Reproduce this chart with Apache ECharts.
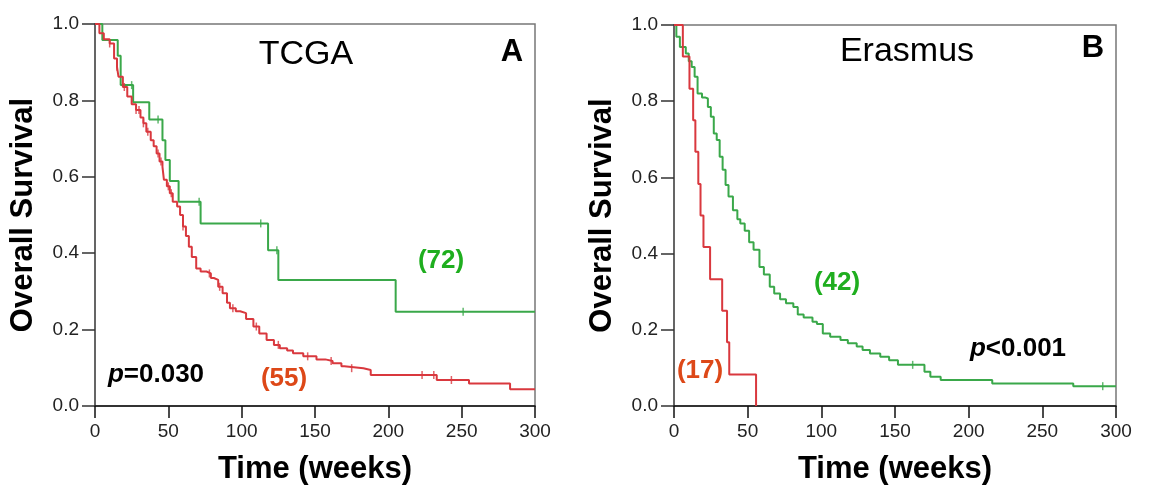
<!DOCTYPE html>
<html>
<head>
<meta charset="utf-8">
<script src="https://cdn.jsdelivr.net/npm/echarts@6/dist/echarts.min.js"></script>
<style>
  html, body { margin: 0; padding: 0; background: #fff; }
  #chart { width: 1151px; height: 504px; }
</style>
</head>
<body>
<div id="chart"></div>
<script>
// Panel A (TCGA): Kaplan-Meier steps, weeks -> survival after the event
var tcgaGreenT = [0, 5, 15.5, 17.5, 26, 37, 46, 48, 51, 57, 72, 118, 125, 205, 300];
var tcgaGreenS = [1, 0.958, 0.917, 0.84, 0.795, 0.75, 0.696, 0.644, 0.589, 0.535, 0.478, 0.408, 0.33, 0.247, 0.247];
var tcgaGreenCens = [25, 43, 71, 113, 124, 251];

var tcgaRedT = [0, 3, 6, 10, 13, 15, 16, 19, 22, 25, 28, 31, 33, 35, 38, 40, 42, 44, 46, 47, 49, 51, 53, 56, 58, 60, 62, 64, 66, 69, 72, 76, 79, 81, 84, 87, 90, 92, 96, 99, 103, 108, 112, 117, 122, 126, 131, 135, 142, 151, 157, 162, 168, 170, 183, 188, 233, 255, 283, 300];
var tcgaRedS = [1, 0.976, 0.96, 0.949, 0.91, 0.888, 0.862, 0.835, 0.81, 0.79, 0.775, 0.755, 0.74, 0.718, 0.696, 0.68, 0.661, 0.64, 0.626, 0.592, 0.575, 0.557, 0.535, 0.522, 0.5, 0.47, 0.445, 0.417, 0.39, 0.36, 0.352, 0.347, 0.335, 0.33, 0.312, 0.295, 0.27, 0.256, 0.248, 0.243, 0.228, 0.208, 0.19, 0.173, 0.16, 0.151, 0.145, 0.138, 0.13, 0.122, 0.118, 0.112, 0.104, 0.099, 0.094, 0.081, 0.068, 0.059, 0.044, 0.044];
var tcgaRedCens = [10, 15, 20, 28, 30, 33, 36, 43, 45, 50, 52, 60, 78, 85, 94, 110, 125, 145, 161, 175, 223, 231, 243];

// Panel B (Erasmus)
var erasGreenT = [0, 1.6, 4, 8, 10, 12, 14, 16, 19, 21, 23, 25, 27, 29, 31, 33, 35, 37, 40, 43, 45, 48, 51, 54, 58, 61, 65, 68, 72, 76, 81, 84, 88, 94, 97, 101, 106, 113, 118, 124, 128, 133, 140, 146, 152, 170, 174, 181, 216, 271, 300];
var erasGreenS = [1, 0.969, 0.942, 0.925, 0.905, 0.89, 0.864, 0.82, 0.81, 0.807, 0.785, 0.759, 0.715, 0.698, 0.654, 0.62, 0.58, 0.55, 0.514, 0.49, 0.479, 0.46, 0.43, 0.41, 0.365, 0.345, 0.313, 0.295, 0.28, 0.27, 0.26, 0.24, 0.232, 0.221, 0.215, 0.19, 0.182, 0.173, 0.165, 0.156, 0.147, 0.138, 0.129, 0.12, 0.108, 0.09, 0.077, 0.068, 0.059, 0.052, 0.052];
var erasGreenCens = [162, 291];

var erasRedT = [0, 6, 10.5, 13, 14.5, 16.5, 18, 20, 24.5, 32.7, 36, 37.5, 55.7];
var erasRedS = [1, 0.917, 0.833, 0.75, 0.667, 0.583, 0.5, 0.417, 0.333, 0.25, 0.167, 0.083, 0];

var yTicks = [0, 0.2, 0.4, 0.6, 0.8, 1.0];

var lineGreen = '#3aa84a';
var lineRed = '#d9383e';
var font = '"Liberation Sans", Arial, sans-serif';

function pairs(t, s) {
    return t.map(function (v, i) { return [v, s[i]]; });
}
function survAt(t, s, x) {
    var v = s[0];
    for (var i = 0; i < t.length; i++) {
        if (t[i] <= x) v = s[i];
    }
    return v;
}
function cens(times, t, s) {
    return times.map(function (x) { return [x, survAt(t, s, x)]; });
}

function kmLine(name, idx, t, s, color) {
    return {
        name: name, type: 'line', step: 'end', xAxisIndex: idx, yAxisIndex: idx,
        data: pairs(t, s), showSymbol: false, symbol: 'none',
        lineStyle: {color: color, width: 2}, animation: false, z: 3
    };
}
function censMarks(name, idx, times, t, s, color) {
    return {
        name: name, type: 'scatter', xAxisIndex: idx, yAxisIndex: idx,
        data: cens(times, t, s), symbol: 'rect', symbolSize: [1.5, 8],
        itemStyle: {color: color}, animation: false, z: 4
    };
}

function xAx(idx) {
    return {
        type: 'value', gridIndex: idx, min: 0, max: 300, interval: 50,
        name: 'Time (weeks)', nameLocation: 'middle', nameGap: 48,
        nameTextStyle: {fontFamily: font, fontSize: 31, fontWeight: 'bold', color: '#000'},
        axisLine: {show: true, onZero: false, lineStyle: {color: '#111', width: 1.5}},
        axisTick: {show: true, length: 12, lineStyle: {color: '#111', width: 1.5}},
        axisLabel: {fontFamily: font, fontSize: 19, color: '#222', margin: 16},
        splitLine: {show: false}
    };
}
function yAx(idx) {
    return {
        type: 'value', gridIndex: idx, min: 0, max: 1, interval: 0.2,
        name: 'Overall Survival', nameLocation: 'middle', nameGap: 56, nameRotate: 90,
        nameTextStyle: {fontFamily: font, fontSize: 31, fontWeight: 'bold', color: '#000'},
        axisLine: {show: true, lineStyle: {color: '#555', width: 1.5}},
        axisTick: {show: true, length: 13, lineStyle: {color: '#333', width: 1.5}},
        axisLabel: {
            fontFamily: font, fontSize: 19, color: '#222', margin: 16,
            formatter: function (v) { return v.toFixed(1); }
        },
        splitLine: {show: false}
    };
}

function txt(x, y, text, size, color, bold) {
    return {
        type: 'text', x: x, y: y, z: 10,
        style: {
            text: text, fill: color, align: 'center', verticalAlign: 'middle',
            font: (bold ? 'bold ' : '') + size + 'px ' + font,
            rich: {i: {fontStyle: 'italic', fontWeight: 'bold', fontSize: size, fontFamily: font, fill: color}}
        }
    };
}

var option = {
    backgroundColor: '#fff',
    animation: false,
    grid: [
        {left: 95, top: 24, width: 440, height: 382, show: true, borderColor: '#777', borderWidth: 1.5, backgroundColor: 'transparent'},
        {left: 674, top: 25, width: 442, height: 381, show: true, borderColor: '#777', borderWidth: 1.5, backgroundColor: 'transparent'}
    ],
    xAxis: [xAx(0), xAx(1)],
    yAxis: [yAx(0), yAx(1)],
    series: [
        kmLine('TCGA high', 0, tcgaGreenT, tcgaGreenS, lineGreen),
        censMarks('TCGA high censored', 0, tcgaGreenCens, tcgaGreenT, tcgaGreenS, lineGreen),
        kmLine('TCGA low', 0, tcgaRedT, tcgaRedS, lineRed),
        censMarks('TCGA low censored', 0, tcgaRedCens, tcgaRedT, tcgaRedS, lineRed),
        kmLine('Erasmus high', 1, erasGreenT, erasGreenS, lineGreen),
        censMarks('Erasmus high censored', 1, erasGreenCens, erasGreenT, erasGreenS, lineGreen),
        kmLine('Erasmus low', 1, erasRedT, erasRedS, lineRed)
    ],
    graphic: [
        txt(306, 55, 'TCGA', 34, '#000', false),
        txt(512, 52, 'A', 31, '#000', true),
        txt(441, 261, '(72)', 26, '#1fae1f', true),
        txt(284, 379, '(55)', 26, '#dd4818', true),
        txt(156, 375, '{i|p}=0.030', 26, '#000', true),
        txt(907, 52, 'Erasmus', 34, '#000', false),
        txt(1093, 48, 'B', 31, '#000', true),
        txt(837, 283, '(42)', 26, '#1fae1f', true),
        txt(700, 371, '(17)', 26, '#dd4818', true),
        txt(1018, 349, '{i|p}<0.001', 26, '#000', true)
    ]
};

var myChart = echarts.init(document.getElementById('chart'));
myChart.setOption(option);
</script>
</body>
</html>
